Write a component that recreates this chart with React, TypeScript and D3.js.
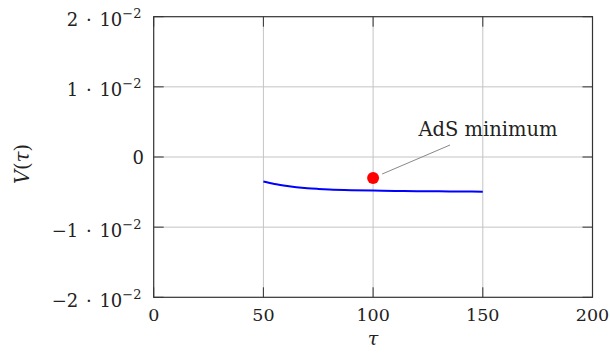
import React from "react";
import * as d3 from "d3";

const tau = [50, 55, 60, 65, 70, 75, 80, 90, 100, 110, 120, 130, 140, 150];
const V = [-0.0035, -0.00385, -0.0041, -0.0043, -0.00445, -0.00455, -0.00463, -0.00473, -0.00479, -0.00484, -0.00488, -0.0049, -0.00492, -0.00494];
const minPoint = { tau: 100, V: -0.003, label: "AdS minimum" };
const xTicks = [0, 50, 100, 150, 200];
const yTicks = [-0.02, -0.01, 0, 0.01, 0.02];
const yTickMantissa = ["\u22122", "\u22121", "0", "1", "2"];

const W = 610, H = 354;
const L = 153.7, R = 592.5, T = 16.7, B = 297.3;
const FONT = "DejaVu Serif";

export default function App() {
  const x = d3.scaleLinear().domain([0, 200]).range([L, R]);
  const y = d3.scaleLinear().domain([-0.02, 0.02]).range([B, T]);
  const line = d3.line<number>().x((_, i) => x(tau[i])).y((d) => y(d)).curve(d3.curveMonotoneX);
  const tickLen = 10;
  const axisColor = "#333";
  const txt = "#222";
  return (
    <svg width={W} height={H} style={{ position: "absolute", left: 0, top: 0, background: "#fff", fontFamily: FONT }}>
      {/* grid */}
      {xTicks.slice(1, -1).map((t) => (
        <line key={"gx" + t} x1={x(t)} x2={x(t)} y1={T} y2={B} stroke="#c4c4c4" strokeWidth={1} />
      ))}
      {yTicks.slice(1, -1).map((t) => (
        <line key={"gy" + t} x1={L} x2={R} y1={y(t)} y2={y(t)} stroke="#c4c4c4" strokeWidth={1} />
      ))}
      {/* ticks */}
      {xTicks.map((t) => (
        <g key={"tx" + t}>
          <line x1={x(t)} x2={x(t)} y1={B} y2={B - tickLen} stroke={axisColor} strokeWidth={1} />
          <line x1={x(t)} x2={x(t)} y1={T} y2={T + tickLen} stroke={axisColor} strokeWidth={1} />
        </g>
      ))}
      {yTicks.map((t) => (
        <g key={"ty" + t}>
          <line x1={L} x2={L + tickLen} y1={y(t)} y2={y(t)} stroke={axisColor} strokeWidth={1} />
          <line x1={R} x2={R - tickLen} y1={y(t)} y2={y(t)} stroke={axisColor} strokeWidth={1} />
        </g>
      ))}
      {/* curve */}
      <path d={line(V) || ""} fill="none" stroke="#0000ff" strokeWidth={2} />
      {/* annotation */}
      <line x1={x(minPoint.tau) + 9} y1={y(minPoint.V) - 4} x2={450} y2={145} stroke="#888" strokeWidth={1} />
      <circle cx={x(minPoint.tau)} cy={y(minPoint.V)} r={6} fill="#ff0000" />
      <text x={488} y={136} textAnchor="middle" style={{ fontSize: 19.5 }} fill={txt}>{minPoint.label}</text>
      {/* frame */}
      <rect x={L} y={T} width={R - L} height={B - T} fill="none" stroke={axisColor} strokeWidth={1.2} />
      {/* x tick labels */}
      {xTicks.map((t) => (
        <text key={"lx" + t} x={x(t)} y={321} textAnchor="middle" style={{ fontSize: 17.5 }} fill={txt}>{t}</text>
      ))}
      {/* y tick labels */}
      {yTicks.map((t, i) =>
        t === 0 ? (
          <text key={"ly" + t} x={144} y={y(t) + 6.5} textAnchor="end" style={{ fontSize: 18 }} fill={txt}>0</text>
        ) : (
          <text key={"ly" + t} x={141.5} y={y(t) + 9.5} textAnchor="end" style={{ fontSize: 18 }} fill={txt}>
            {yTickMantissa[i]}
            <tspan dx={2}>{" \u00b7 "}</tspan>
            <tspan dx={2}>10</tspan>
            <tspan dy={-8} style={{ fontSize: 13 }}>{"\u22122"}</tspan>
          </text>
        )
      )}
      {/* axis labels */}
      <text x={x(100)} y={345} textAnchor="middle" style={{ fontSize: 19, fontStyle: "italic" }} fill={txt}>{"\u03c4"}</text>
      <text transform={`translate(29,164) rotate(-90)`} textAnchor="middle" style={{ fontSize: 19.5 }} fill={txt}>
        <tspan fontStyle="italic">V</tspan>(<tspan fontStyle="italic">{"\u03c4"}</tspan>)
      </text>
    </svg>
  );
}
